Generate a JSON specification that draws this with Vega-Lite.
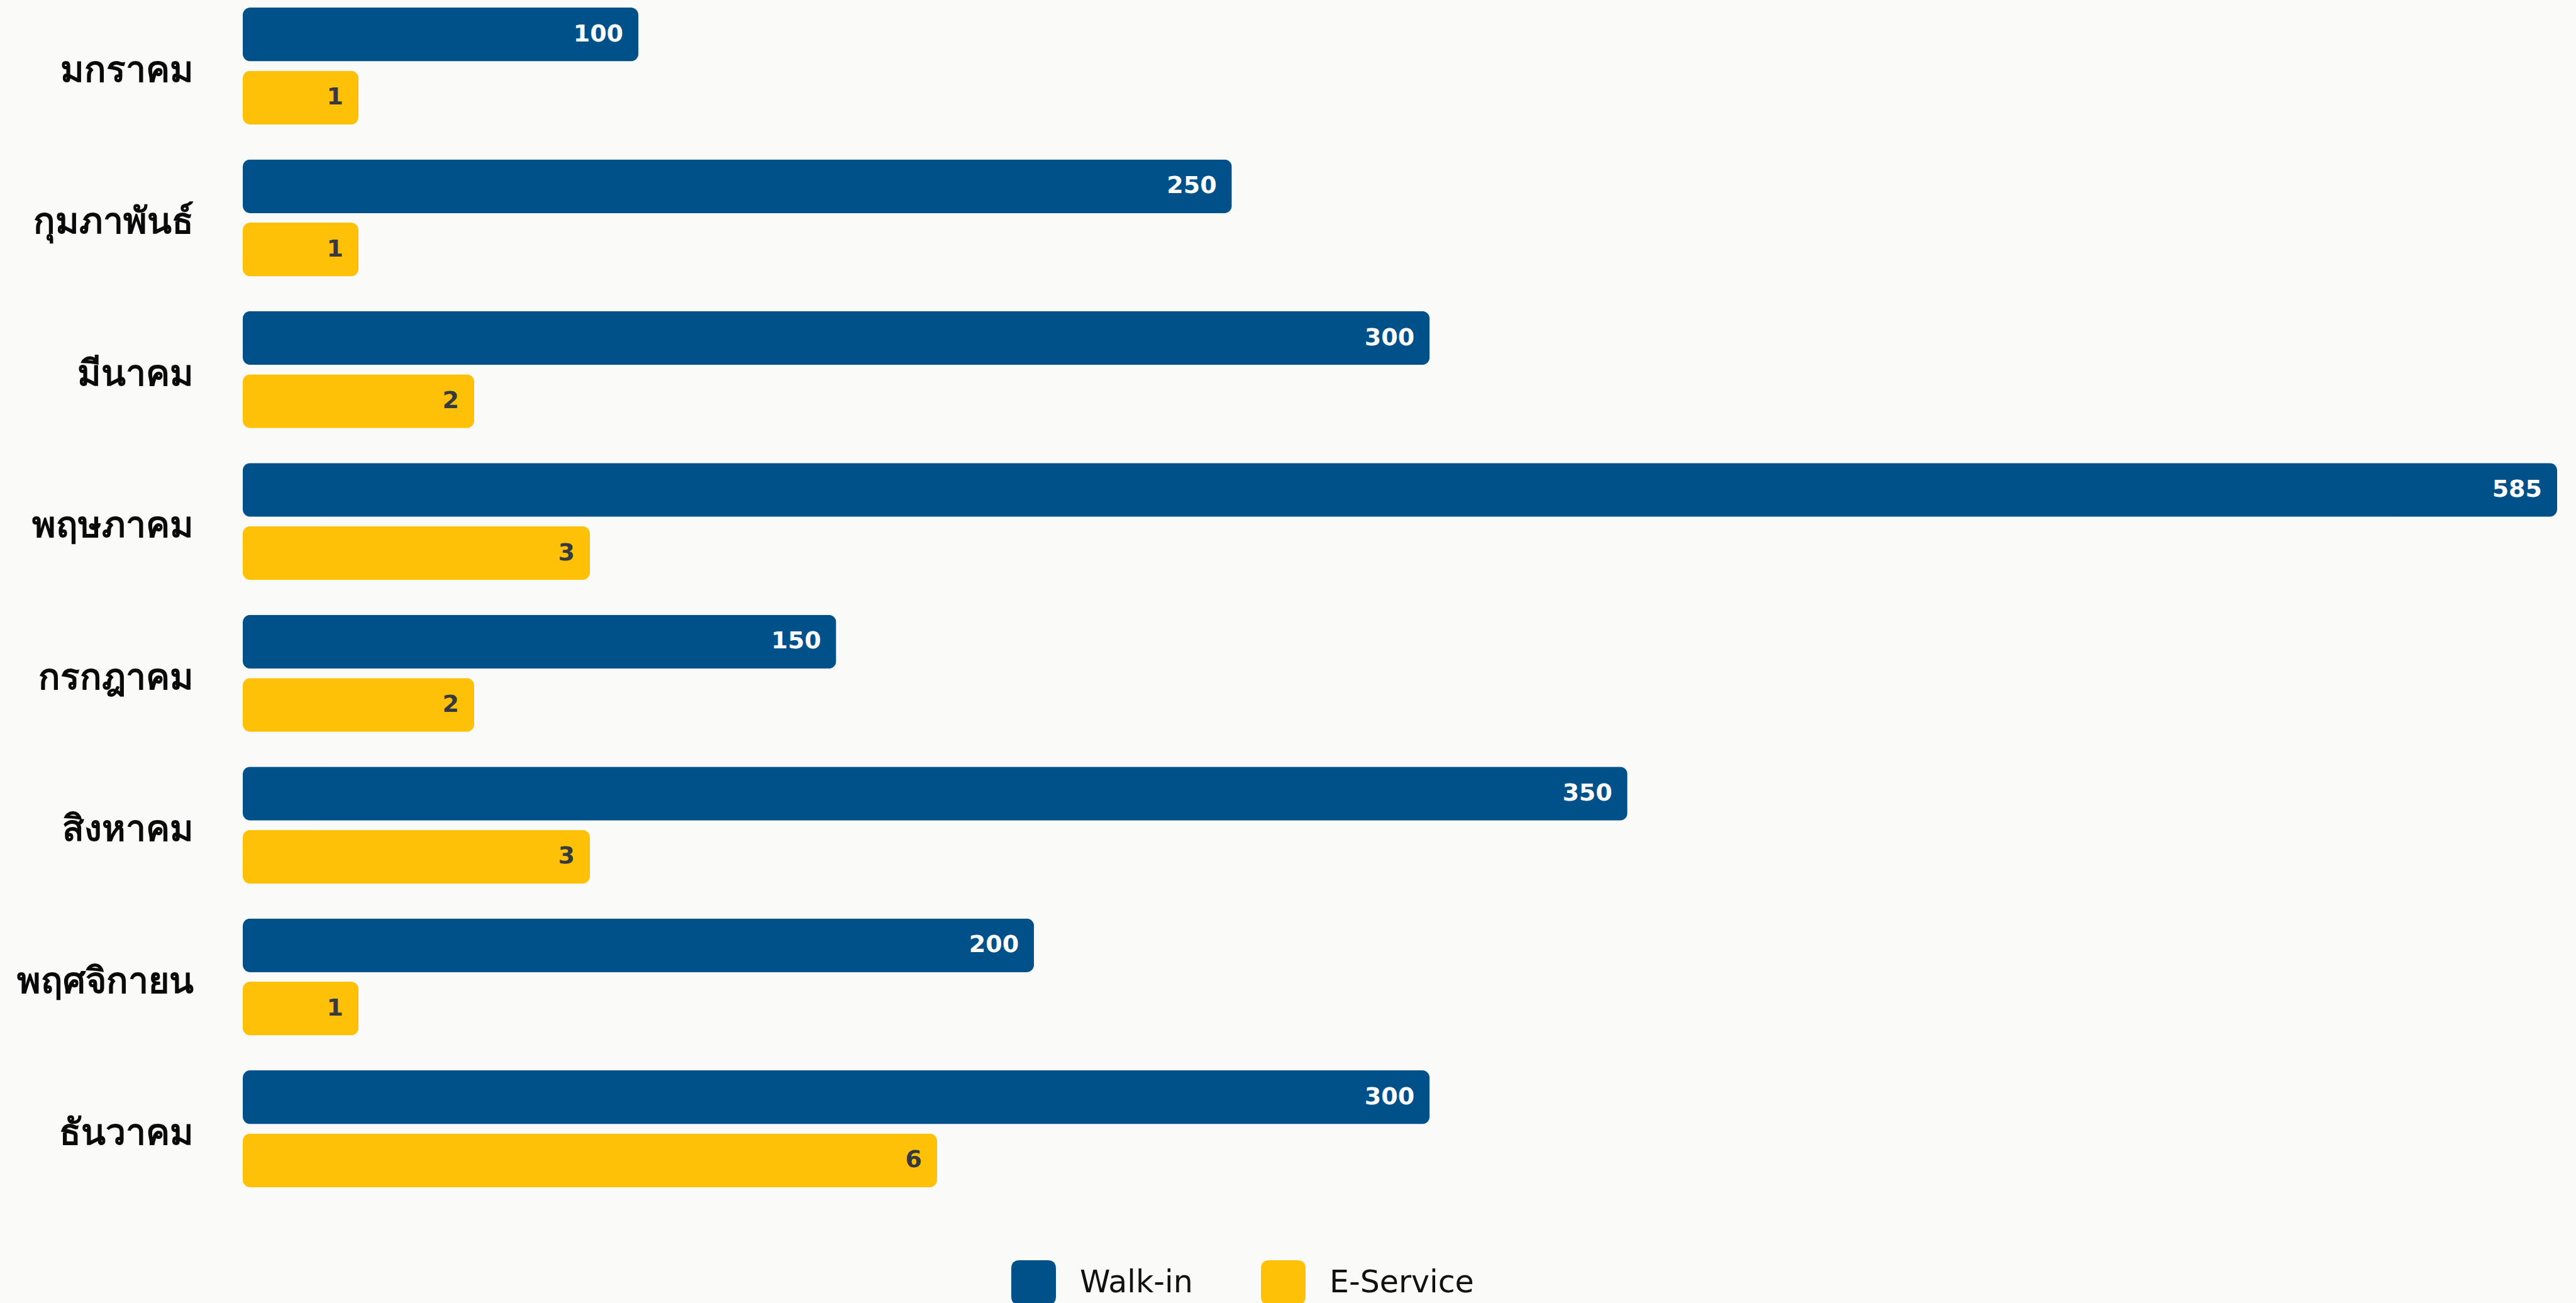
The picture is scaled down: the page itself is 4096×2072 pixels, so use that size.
{
  "$schema": "https://vega.github.io/schema/vega-lite/v6.json",
  "autosize": {"type": "none"},
  "width": 3680,
  "height": 1876,
  "padding": {"left": 386, "top": 12, "right": 30, "bottom": 184},
  "background": "#fafaf9",
  "data": {
    "values": [
      {"month": "มกราคม", "series": "Walk-in", "value": 100},
      {"month": "มกราคม", "series": "E-Service", "value": 1},
      {"month": "กุมภาพันธ์", "series": "Walk-in", "value": 250},
      {"month": "กุมภาพันธ์", "series": "E-Service", "value": 1},
      {"month": "มีนาคม", "series": "Walk-in", "value": 300},
      {"month": "มีนาคม", "series": "E-Service", "value": 2},
      {"month": "พฤษภาคม", "series": "Walk-in", "value": 585},
      {"month": "พฤษภาคม", "series": "E-Service", "value": 3},
      {"month": "กรกฎาคม", "series": "Walk-in", "value": 150},
      {"month": "กรกฎาคม", "series": "E-Service", "value": 2},
      {"month": "สิงหาคม", "series": "Walk-in", "value": 350},
      {"month": "สิงหาคม", "series": "E-Service", "value": 3},
      {"month": "พฤศจิกายน", "series": "Walk-in", "value": 200},
      {"month": "พฤศจิกายน", "series": "E-Service", "value": 1},
      {"month": "ธันวาคม", "series": "Walk-in", "value": 300},
      {"month": "ธันวาคม", "series": "E-Service", "value": 6}
    ]
  },
  "encoding": {
    "y": {
      "field": "month",
      "type": "nominal",
      "sort": ["มกราคม", "กุมภาพันธ์", "มีนาคม", "พฤษภาคม", "กรกฎาคม", "สิงหาคม", "พฤศจิกายน", "ธันวาคม"],
      "scale": {"paddingInner": 0.2295, "paddingOuter": 0},
      "axis": {
        "title": null,
        "domain": false,
        "ticks": false,
        "grid": false,
        "labelFontSize": 57,
        "labelFontWeight": "bold",
        "labelFont": "Noto Sans",
        "labelColor": "#0a0a0a",
        "labelPadding": 79,
        "labelOffset": 8,
        "labelLimit": 0
      }
    },
    "yOffset": {
      "field": "series",
      "type": "nominal",
      "scale": {"domain": ["Walk-in", "E-Service"], "paddingInner": 0.149, "paddingOuter": 0}
    }
  },
  "layer": [
    {
      "transform": [{"filter": "datum.series === 'Walk-in'"}],
      "mark": {"type": "bar", "cornerRadius": 12},
      "encoding": {
        "x": {"field": "value", "type": "quantitative", "scale": {"domain": [0, 585], "nice": false}, "axis": null},
        "color": {
          "field": "series",
          "type": "nominal",
          "scale": {"domain": ["Walk-in", "E-Service"], "range": ["#00518A", "#FFC107"]},
          "legend": {"title": null}
        }
      }
    },
    {
      "transform": [{"filter": "datum.series === 'Walk-in'"}],
      "mark": {"type": "text", "align": "right", "baseline": "middle", "dx": -24, "font": "DejaVu Sans", "fontWeight": "bold", "fontSize": 38, "color": "#ffffff"},
      "encoding": {
        "x": {"field": "value", "type": "quantitative", "scale": {"domain": [0, 585], "nice": false}, "axis": null},
        "text": {"field": "value", "type": "quantitative"}
      }
    },
    {
      "transform": [{"filter": "datum.series === 'E-Service'"}],
      "mark": {"type": "bar", "cornerRadius": 12},
      "encoding": {
        "x": {"field": "value", "type": "quantitative", "scale": {"domain": [0, 20], "nice": false}, "axis": null},
        "color": {
          "field": "series",
          "type": "nominal",
          "scale": {"domain": ["Walk-in", "E-Service"], "range": ["#00518A", "#FFC107"]},
          "legend": {"title": null}
        }
      }
    },
    {
      "transform": [{"filter": "datum.series === 'E-Service'"}],
      "mark": {"type": "text", "align": "right", "baseline": "middle", "dx": -24, "font": "DejaVu Sans", "fontWeight": "bold", "fontSize": 38, "color": "#343a40"},
      "encoding": {
        "x": {"field": "value", "type": "quantitative", "scale": {"domain": [0, 20], "nice": false}, "axis": null},
        "text": {"field": "value", "type": "quantitative"}
      }
    }
  ],
  "resolve": {"scale": {"x": "independent"}},
  "config": {
    "view": {"stroke": null},
    "legend": {
      "orient": "none",
      "legendX": 1222,
      "legendY": 1992,
      "direction": "horizontal",
      "padding": 0,
      "offset": 0,
      "symbolType": "M-0.62,-1H0.62Q1,-1,1,-0.62V0.62Q1,1,0.62,1H-0.62Q-1,1,-1,0.62V-0.62Q-1,-1,-0.62,-1Z",
      "symbolSize": 5041,
      "symbolStrokeWidth": 0,
      "symbolOpacity": 1,
      "labelFont": "DejaVu Sans",
      "labelFontSize": 49,
      "labelColor": "#111111",
      "labelOffset": 38,
      "columnPadding": 108,
      "labelLimit": 0
    }
  }
}
